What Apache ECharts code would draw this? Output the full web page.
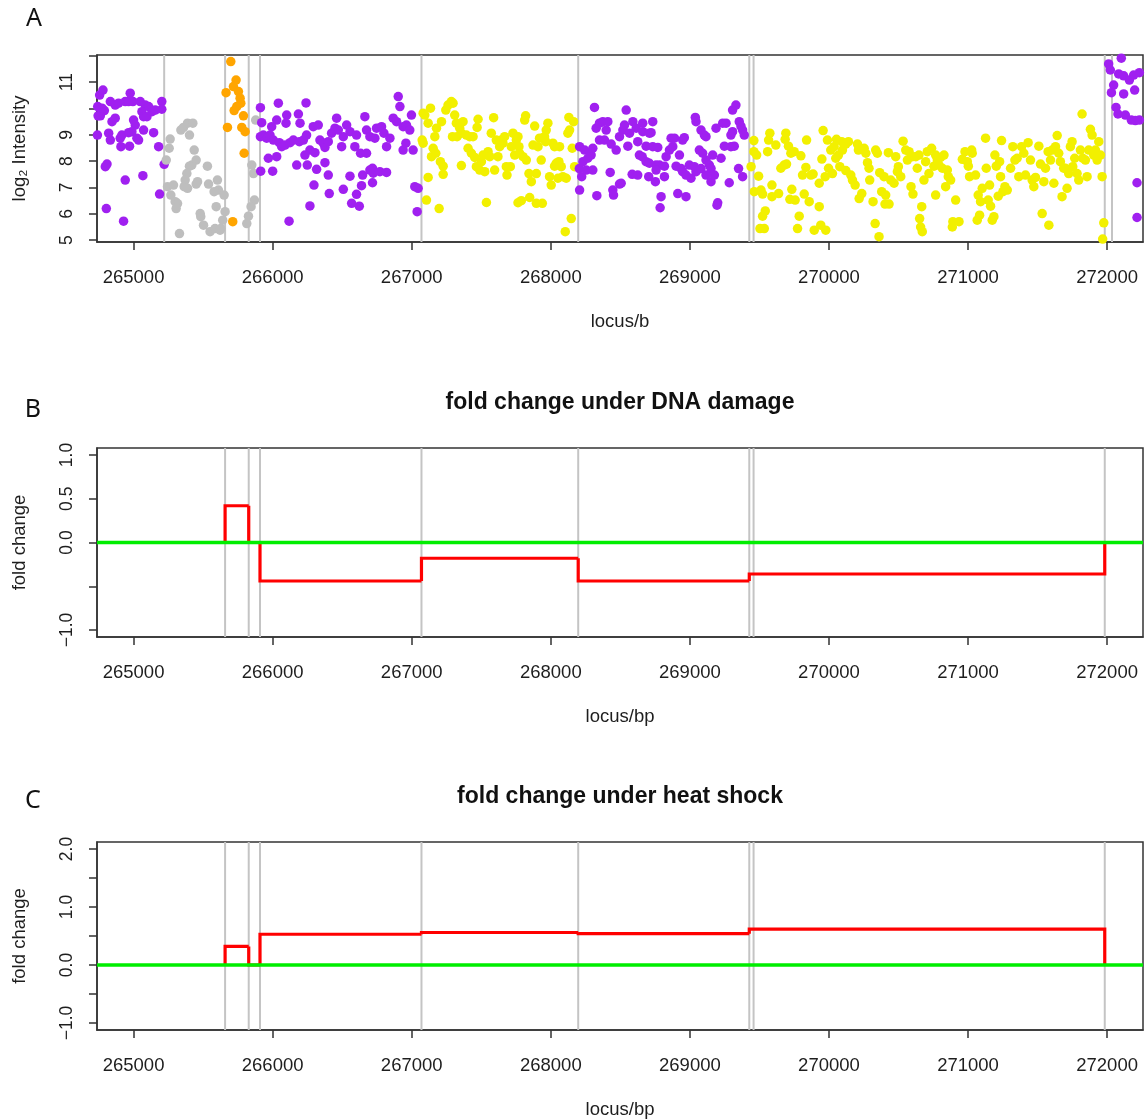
<!DOCTYPE html>
<html><head><meta charset="utf-8">
<script src="https://cdn.jsdelivr.net/npm/echarts@6/dist/echarts.min.js"></script>
<style>html,body{margin:0;padding:0;background:#fff}#c{width:1146px;height:1120px}</style>
</head><body><div id="c"></div>
<script>
// ---- Panel A: log2 intensity by locus (bp), one array per segment ----
const purpleSeg1 = [[264756,10.51],[264780,10.70],[264742,10.07],[264773,10.01],[264761,9.72],[264745,9.72],[264790,9.92],[264833,10.26],[264868,10.13],[264892,10.20],[264845,9.50],[264868,9.63],[264940,10.26],[264976,10.58],[264964,10.26],[264995,10.26],[265048,10.26],[265084,10.13],[265108,10.07],[265060,9.88],[265072,9.69],[265096,9.69],[265132,9.88],[265156,9.94],[265203,10.26],[265203,9.97],[265000,9.56],[265012,9.37],[264988,9.12],[265072,9.18],[265144,9.08],[264740,8.99],[264821,9.06],[264833,8.80],[264904,8.87],[264916,8.99],[264964,9.08],[265024,8.87],[265036,8.80],[264909,8.55],[264971,8.57],[265180,8.55],[265220,7.88],[264797,7.79],[264809,7.89],[264940,7.28],[265067,7.45],[265187,6.75],[264804,6.20],[264928,5.72]];
const graySeg = [[265263,8.84],[265256,8.49],[265235,8.04],[265244,7.03],[265287,7.09],[265268,6.71],[265299,6.46],[265316,6.39],[265306,6.20],[265330,5.25],[265340,9.18],[265359,9.28],[265388,9.44],[265426,9.44],[265402,8.99],[265436,8.42],[265450,8.04],[265419,7.85],[265402,7.81],[265383,7.53],[265371,7.28],[265364,7.03],[265388,6.97],[265460,7.22],[265450,7.13],[265531,7.81],[265539,7.13],[265603,7.28],[265610,6.90],[265579,6.84],[265594,6.27],[265651,6.71],[265658,6.08],[265479,6.01],[265483,5.89],[265503,5.57],[265550,5.32],[265586,5.44],[265627,5.44],[265641,5.76],[265622,5.38],[265878,9.56],[265850,7.85],[265862,7.53],[265869,6.52],[265845,6.27],[265826,5.91],[265814,5.63]];
const orangeSeg = [[265699,11.78],[265737,11.08],[265718,10.83],[265665,10.60],[265754,10.64],[265766,10.39],[265771,10.20],[265742,10.07],[265723,9.92],[265790,9.72],[265675,9.28],[265778,9.28],[265802,9.12],[265795,8.30],[265713,5.70]];
const purpleSeg2 = [[265912,10.03],[265921,9.46],[265912,8.93],[265933,8.99],[265957,8.87],[265993,9.31],[265981,8.99],[266041,10.20],[266029,9.56],[266005,8.80],[266048,8.70],[266065,8.55],[266089,8.61],[266101,9.75],[266096,9.44],[266125,8.70],[266149,8.80],[266185,9.79],[266197,9.44],[266192,8.74],[266221,8.80],[266244,8.99],[266268,8.42],[266232,8.23],[266292,9.31],[266328,9.37],[266340,8.80],[266364,8.68],[266376,8.52],[266400,8.74],[266424,9.06],[266460,9.63],[266448,9.25],[266472,9.18],[266496,8.55],[266508,8.93],[266532,9.37],[266556,9.12],[266591,8.55],[266603,8.99],[266663,9.69],[266675,9.18],[266699,8.93],[266735,8.87],[266747,9.25],[266783,9.31],[266800,9.06],[266819,8.55],[266843,8.87],[266867,9.63],[266891,9.50],[266903,10.45],[266915,10.07],[266938,9.31],[266962,9.37],[266998,9.75],[266986,9.18],[266958,8.68],[266938,8.42],[267010,8.42],[267022,7.03],[267046,6.97],[267039,6.08],[265969,8.11],[266000,7.62],[265914,7.62],[266029,8.17],[266173,7.85],[266249,7.85],[266297,7.09],[266316,7.69],[266376,7.94],[266400,7.47],[266407,6.77],[266268,6.30],[266508,6.93],[266556,7.43],[266568,6.40],[266603,6.74],[266623,6.29],[266632,8.30],[266647,7.47],[266639,7.07],[266675,8.30],[266718,7.73],[266723,7.54],[266718,7.18],[266771,7.60],[266819,7.57],[266118,5.72],[266699,7.66],[266304,8.32],[266240,10.21]];
const yellowSeg1 = [[267082,9.82],[267118,9.44],[267094,9.75],[267135,10.01],[267075,8.80],[267082,8.68],[267166,8.93],[267178,9.25],[267154,8.49],[267142,8.17],[267173,8.30],[267206,7.98],[267226,7.81],[267118,7.38],[267226,7.50],[267106,6.52],[267197,6.20],[267214,9.50],[267245,9.94],[267261,10.13],[267285,10.26],[267297,10.20],[267309,9.75],[267321,9.44],[267345,9.25],[267369,9.50],[267293,8.93],[267326,8.93],[267357,9.06],[267393,8.99],[267417,8.93],[267441,8.93],[267405,8.49],[267429,8.30],[267477,9.59],[267470,9.28],[267453,8.14],[267465,7.79],[267489,7.66],[267501,7.98],[267525,7.60],[267549,8.36],[267561,8.17],[267589,9.65],[267572,9.06],[267596,7.66],[267620,8.17],[267632,8.55],[267644,8.80],[267668,8.93],[267656,8.68],[267680,7.79],[267685,7.47],[267709,7.79],[267716,8.55],[267728,9.06],[267752,8.80],[267764,8.93],[267771,8.55],[267740,8.23],[267776,8.30],[267800,8.17],[267819,9.72],[267812,9.56],[267884,9.33],[267843,7.53],[267860,7.22],[267896,7.53],[267824,8.04],[267872,8.61],[267908,8.55],[267919,8.87],[267931,8.04],[267955,8.93],[267967,9.18],[267979,9.44],[267963,8.74],[267991,7.41],[268003,7.09],[268015,8.68],[268027,8.55],[268063,8.55],[268039,7.92],[268058,7.98],[268075,7.79],[268027,7.81],[268087,7.41],[268051,7.35],[268111,7.35],[268123,9.06],[268135,9.18],[268130,9.66],[268164,9.50],[268154,8.49],[268171,7.79],[267537,6.43],[267764,6.42],[267788,6.50],[267848,6.62],[267896,6.40],[267939,6.40],[268147,5.82],[268104,5.32],[267357,7.83],[267513,8.23],[267608,8.80]];
const purpleSeg3 = [[268314,10.04],[268326,9.25],[268350,9.44],[268374,9.50],[268410,9.50],[268398,9.18],[268350,8.80],[268386,8.80],[268434,8.65],[268470,8.42],[268494,8.93],[268518,9.18],[268542,9.94],[268530,9.37],[268590,9.50],[268566,9.06],[268554,8.57],[268614,9.25],[268625,8.74],[268661,9.44],[268661,9.12],[268709,9.06],[268733,9.50],[268721,9.08],[268685,8.57],[268733,8.55],[268769,8.52],[268637,8.23],[268657,8.17],[268685,7.98],[268709,7.92],[268757,7.85],[268781,7.85],[268817,7.81],[268829,8.17],[268853,8.42],[268865,8.87],[268889,8.87],[268877,8.55],[268948,8.80],[268960,8.89],[268925,8.23],[268901,7.81],[268937,7.72],[268948,7.60],[268996,7.85],[269032,7.79],[269044,9.50],[269039,9.66],[269080,9.18],[269104,8.99],[269116,8.93],[269068,8.42],[269092,8.30],[269116,8.04],[269140,7.85],[269152,7.72],[269164,8.23],[269188,9.25],[269224,8.11],[269236,9.44],[269260,9.44],[269248,8.57],[269295,8.55],[269319,8.57],[269307,9.94],[269331,10.13],[269355,9.50],[269367,9.33],[269379,9.18],[269391,8.99],[269295,8.99],[269307,9.12],[269379,7.41],[268207,8.55],[268243,8.42],[268231,7.98],[268266,8.11],[268290,8.23],[268302,8.49],[268205,7.72],[268222,7.41],[268207,6.90],[268255,7.66],[268427,7.57],[268506,7.16],[268494,7.13],[268446,6.90],[268451,6.71],[268331,6.69],[268585,7.50],[268625,7.47],[268704,7.41],[268752,7.22],[268757,7.66],[268817,7.41],[268793,6.65],[268786,6.23],[268913,6.77],[268972,6.65],[268972,7.47],[269008,7.35],[269044,7.60],[269080,7.72],[269116,7.47],[269152,7.22],[269176,7.47],[269200,6.42],[269195,6.33],[269283,7.18],[269350,7.72],[268302,7.66]];
const yellowSeg2 = [[269460,8.78],[269460,8.36],[269480,8.23],[269440,7.79],[269494,7.43],[269463,6.84],[269511,6.90],[269523,6.75],[269523,5.91],[269542,6.11],[269504,5.44],[269535,5.44],[269559,8.36],[269566,8.80],[269575,9.06],[269590,7.09],[269590,6.65],[269618,8.61],[269638,6.77],[269654,7.73],[269678,7.85],[269695,7.89],[269685,8.83],[269690,9.06],[269709,8.57],[269726,8.30],[269750,8.36],[269733,6.93],[269719,6.55],[269757,6.52],[269774,5.44],[269786,5.91],[269798,8.20],[269810,7.47],[269822,6.75],[269839,8.80],[269834,7.76],[269858,6.46],[269870,7.47],[269886,7.51],[269894,5.38],[269930,6.27],[269941,5.57],[269930,7.16],[269949,8.08],[269958,9.16],[269973,7.41],[269977,5.38],[269989,8.80],[269997,7.73],[270013,8.42],[270025,7.53],[270037,8.55],[270049,8.11],[270054,8.83],[270068,8.23],[270078,7.79],[270092,8.74],[270097,8.42],[270121,8.65],[270121,7.64],[270140,8.74],[270157,7.47],[270169,7.28],[270188,7.09],[270205,8.65],[270212,8.42],[270217,6.58],[270236,6.77],[270253,8.49],[270265,8.30],[270277,7.94],[270288,7.73],[270293,7.28],[270317,6.46],[270332,5.63],[270336,8.42],[270348,8.30],[270360,5.13],[270365,7.56],[270379,6.84],[270396,7.41],[270403,6.37],[270408,6.71],[270427,8.32],[270432,6.37],[270444,7.28],[270468,7.16],[270480,8.17],[270492,7.60],[270499,7.79],[270516,7.41],[270533,8.76],[270552,8.42],[270564,8.04],[270576,8.36],[270590,7.03],[270600,8.17],[270604,6.75],[270624,8.17],[270635,7.73],[270647,8.23],[270652,5.82],[270659,5.50],[270667,6.27],[270671,5.32],[270683,7.28],[270695,7.98],[270707,8.36],[270719,7.53],[270738,8.49],[270755,7.81],[270767,6.71],[270767,8.23],[270779,8.04],[270791,7.85],[270803,8.14],[270815,7.73],[270827,8.23],[270839,7.03],[270851,7.66],[270858,7.41],[270875,7.28],[270887,5.50],[270891,5.70],[270911,6.52],[270935,5.70],[270959,8.07],[270978,8.36],[270995,7.98],[271002,7.81],[271011,7.41],[271026,8.42],[271030,8.30],[271054,7.47],[271066,5.76],[271073,6.71],[271083,5.95],[271090,6.46],[271102,6.97],[271126,8.87],[271131,7.73],[271145,6.52],[271155,7.09],[271162,6.29],[271174,5.76],[271186,5.89],[271193,8.23],[271203,7.81],[271217,6.67],[271227,7.98],[271234,7.41],[271241,8.78],[271251,6.84],[271265,7.03],[271282,6.90],[271306,7.73],[271322,8.55],[271337,8.04],[271353,8.11],[271365,7.41],[271385,8.55],[271401,8.30],[271413,7.47],[271432,8.70],[271449,8.04],[271461,7.28],[271473,7.03],[271485,7.38],[271509,8.57],[271521,7.89],[271533,6.01],[271545,7.22],[271557,7.73],[271576,8.36],[271581,5.57],[271593,8.04],[271605,8.42],[271617,7.16],[271629,8.55],[271641,8.97],[271652,8.30],[271664,7.98],[271676,6.65],[271688,7.73],[271700,7.73],[271712,6.97],[271724,7.53],[271736,8.55],[271748,8.74],[271753,7.79],[271767,8.11],[271784,7.53],[271796,7.28],[271808,8.42],[271820,9.79],[271825,8.11],[271844,8.04],[271856,7.41],[271868,8.42],[271880,9.21],[271892,8.99],[271904,8.23],[271916,8.42],[271928,8.04],[271940,8.74],[271952,8.23],[271964,7.41],[271976,5.66],[271968,5.04]];
const purpleSeg4 = [[272102,11.91],[272011,11.69],[272023,11.46],[272083,11.31],[272119,11.24],[272160,11.08],[272191,11.27],[272232,11.36],[272047,10.89],[272031,10.60],[272119,10.55],[272198,10.70],[272064,10.04],[272078,9.79],[272131,9.75],[272174,9.56],[272203,9.54],[272232,9.56],[272215,7.18],[272215,5.86]];

// ---- segment boundaries (bp) ----
const boundariesA = [265220, 265658, 265828, 265909, 267070, 268197, 269427, 269458, 271983, 272035];
const boundariesBC = [265658, 265828, 265909, 267070, 268197, 269427, 269458, 271983];

// ---- Panels B and C: fold change per segment ----
const segStart = [265658, 265828, 265909, 267070, 268197, 269427];
const segEnd = 271983;
const foldDNA = [0.42, 0, -0.44, -0.18, -0.44, -0.36];
const foldHeat = [0.32, 0, 0.53, 0.56, 0.54, 0.62];

// ---- ticks ----
const xTicks = [265000, 266000, 267000, 268000, 269000, 270000, 271000, 272000];
const intensityTicks = [5, 6, 7, 8, 9, 10, 11, 12];
const intensityLabels = [5, 6, 7, 8, 9, 11];
const dnaTicks = [-1, -0.5, 0, 0.5, 1];
const dnaLabels = [-1, 0, 0.5, 1];
const heatTicks = [-1, -0.5, 0, 0.5, 1, 1.5, 2];
const heatLabels = [-1, 0, 1, 2];

const X_MIN = 264737, X_MAX = 272258;
const FONT = '"Liberation Sans", Arial, Helvetica, sans-serif';
const INK = '#1e1e1e';
const FRAME = '#333333';

// one item per segment: [start, end, value, previous value, is last]
function stepItems(vals) {
  return segStart.map((s, i) => [
    s, i + 1 < segStart.length ? segStart[i + 1] : segEnd,
    vals[i], i === 0 ? 0 : vals[i - 1], i === segStart.length - 1 ? 1 : 0
  ]);
}

function xAxis(gi, name) {
  return {
    type: 'value', gridIndex: gi, min: X_MIN, max: X_MAX,
    name: name, nameLocation: 'middle', nameGap: 70,
    nameTextStyle: { fontSize: 18.5, color: INK, fontFamily: FONT },
    axisLine: { show: true, onZero: false, lineStyle: { color: FRAME, width: 1.5 } },
    axisTick: { show: true, length: 8, customValues: xTicks, lineStyle: { color: FRAME, width: 1.5 } },
    axisLabel: { customValues: xTicks, margin: 26, fontSize: 18.5, color: INK, fontFamily: FONT, formatter: v => String(v) },
    splitLine: { show: false }
  };
}
function fmtFold(v) { return (v < 0 ? '\u2212' : '') + Math.abs(v).toFixed(1); }
function yAxis(gi, name, min, max, ticks, labels, fmt) {
  return {
    type: 'value', gridIndex: gi, min: min, max: max,
    name: name, nameLocation: 'middle', nameGap: 68,
    nameTextStyle: { fontSize: 18.5, color: INK, fontFamily: FONT },
    axisLine: { show: true, onZero: false, lineStyle: { color: FRAME, width: 1.5 } },
    axisTick: { show: true, length: 8, customValues: ticks, lineStyle: { color: FRAME, width: 1.5 } },
    axisLabel: { customValues: labels, rotate: 90, margin: 21, fontSize: 17.5, color: INK, fontFamily: FONT, formatter: fmt },
    splitLine: { show: false }
  };
}
function vlines(gi, arr, yMin) {
  return {
    type: 'custom', xAxisIndex: gi, yAxisIndex: gi, z: 1, silent: true,
    data: arr.map(b => [b, yMin]), encode: { x: 0, y: 1 },
    renderItem: function (params, api) {
      const cs = params.coordSys;
      const x = api.coord([api.value(0), api.value(1)])[0];
      return { type: 'line', shape: { x1: x, y1: cs.y, x2: x, y2: cs.y + cs.height },
               style: { stroke: '#c4c4c4', lineWidth: 2 } };
    }
  };
}
function pts(data, color) {
  return { type: 'scatter', xAxisIndex: 0, yAxisIndex: 0, z: 2, data: data, symbolSize: 9.5,
           itemStyle: { color: color, opacity: 1 }, silent: true };
}
function fold(gi, vals) {
  return {
    type: 'custom', xAxisIndex: gi, yAxisIndex: gi, z: 3, silent: true,
    data: stepItems(vals), encode: { x: [0, 1], y: [2, 3] },
    renderItem: function (params, api) {
      const s = api.value(0), e = api.value(1), v = api.value(2), p = api.value(3), last = api.value(4);
      const points = [api.coord([s, p]), api.coord([s, v]), api.coord([e, v])];
      if (last) points.push(api.coord([e, 0]));
      return { type: 'polyline', shape: { points: points },
               style: { stroke: '#ff0000', lineWidth: 3.2, fill: 'none', lineJoin: 'miter' } };
    }
  };
}
function zeroLine(gi) {
  return {
    type: 'custom', xAxisIndex: gi, yAxisIndex: gi, z: 4, silent: true,
    data: [[X_MIN, 0]], encode: { x: 0, y: 1 },
    renderItem: function (params, api) {
      const cs = params.coordSys;
      const y = api.coord([api.value(0), api.value(1)])[1];
      return { type: 'line', shape: { x1: cs.x, y1: y, x2: cs.x + cs.width, y2: y },
               style: { stroke: '#00ee00', lineWidth: 3.5 } };
    }
  };
}

const PURPLE = '#a020f0', GRAY = '#bebebe', ORANGE = '#ffa500', YELLOW = '#f2f000';

const chart = echarts.init(document.getElementById('c'), null, { renderer: 'canvas' });
chart.setOption({
  animation: false,
  backgroundColor: '#ffffff',
  grid: [
    { left: 97, top: 55, width: 1046, height: 187, show: true, borderColor: FRAME, borderWidth: 1.5, outerBoundsMode: 'none' },
    { left: 97, top: 448, width: 1046, height: 189, show: true, borderColor: FRAME, borderWidth: 1.5, outerBoundsMode: 'none' },
    { left: 97, top: 842, width: 1046, height: 188, show: true, borderColor: FRAME, borderWidth: 1.5, outerBoundsMode: 'none' }
  ],
  xAxis: [xAxis(0, 'locus/b'), xAxis(1, 'locus/bp'), xAxis(2, 'locus/bp')],
  yAxis: [
    yAxis(0, 'log\u2082 Intensity', 4.93, 12.03, intensityTicks, intensityLabels, v => String(v)),
    yAxis(1, 'fold change', -1.08, 1.08, dnaTicks, dnaLabels, fmtFold),
    yAxis(2, 'fold change', -1.12, 2.12, heatTicks, heatLabels, fmtFold)
  ],
  graphic: [
    { type: 'text', x: 34, y: 19, style: { text: 'A', font: '25px "Noto Sans", sans-serif', fill: '#111', align: 'center', verticalAlign: 'middle', textAlign: 'center', textVerticalAlign: 'middle' } },
    { type: 'text', x: 33, y: 410, style: { text: 'B', font: '25px "Noto Sans", sans-serif', fill: '#111', align: 'center', verticalAlign: 'middle', textAlign: 'center', textVerticalAlign: 'middle' } },
    { type: 'text', x: 33, y: 801, style: { text: 'C', font: '25px "Noto Sans", sans-serif', fill: '#111', align: 'center', verticalAlign: 'middle', textAlign: 'center', textVerticalAlign: 'middle' } },
    { type: 'text', x: 620, y: 403, style: { text: 'fold change under DNA damage', font: 'bold 23px ' + FONT, fill: '#111', align: 'center', verticalAlign: 'middle', textAlign: 'center', textVerticalAlign: 'middle' } },
    { type: 'text', x: 620, y: 797, style: { text: 'fold change under heat shock', font: 'bold 23px ' + FONT, fill: '#111', align: 'center', verticalAlign: 'middle', textAlign: 'center', textVerticalAlign: 'middle' } }
  ],
  series: [
    vlines(0, boundariesA, 4.93),
    vlines(1, boundariesBC, -1.08),
    vlines(2, boundariesBC, -1.12),
    pts(purpleSeg1, PURPLE), pts(graySeg, GRAY), pts(orangeSeg, ORANGE), pts(purpleSeg2, PURPLE),
    pts(yellowSeg1, YELLOW), pts(purpleSeg3, PURPLE), pts(yellowSeg2, YELLOW), pts(purpleSeg4, PURPLE),
    fold(1, foldDNA), zeroLine(1),
    fold(2, foldHeat), zeroLine(2)
  ]
});
</script>
</body></html>
